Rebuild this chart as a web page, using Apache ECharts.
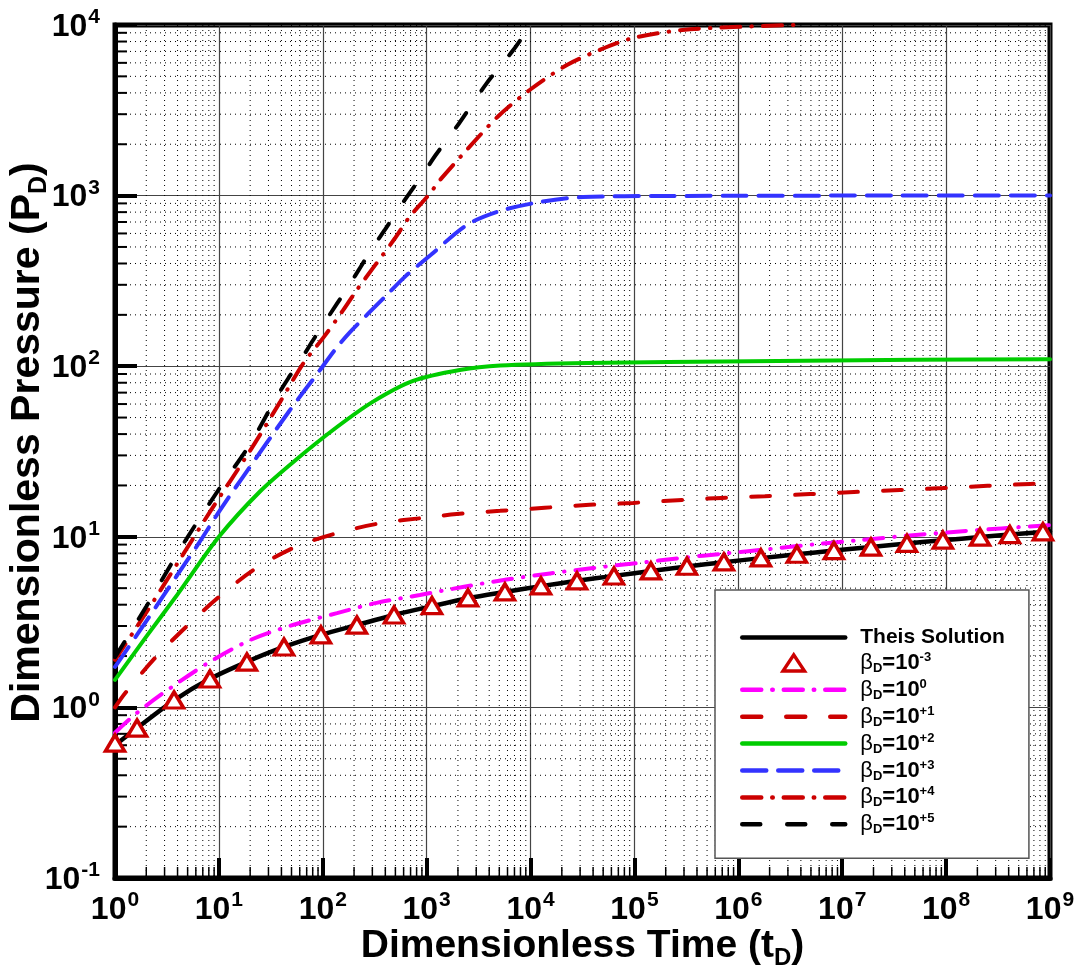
<!DOCTYPE html>
<html>
<head>
<meta charset="utf-8">
<script src="https://cdn.jsdelivr.net/npm/echarts@6/dist/echarts.min.js"></script>
<style>
  html, body { margin: 0; background: #fff; }
  #chart { width: 1081px; height: 967px; }
</style>
</head>
<body>
<div id="chart"></div>
<script>
// values (tD, PD)
const tTheis = [1, 1.63, 3.7, 8.2, 18.6, 42.3, 96, 213, 485, 1125, 2500, 5670, 12600, 28000, 63500, 1.44e5, 3.2e5, 7.26e5, 1.65e6, 3.66e6, 8.32e6, 1.89e7, 4.2e7, 9.31e7, 2.12e8, 4.11e8, 8.55e8, 1e9]
const pTheis = [0.60, 0.757, 1.10, 1.47, 1.85, 2.26, 2.66, 3.04, 3.48, 3.92, 4.36, 4.75, 5.14, 5.52, 5.90, 6.30, 6.70, 7.10, 7.50, 7.90, 8.30, 8.72, 9.14, 9.55, 9.96, 10.3, 10.68, 10.76]

const tBm3 = [1, 1.63, 3.7, 8.2, 18.6, 42.3, 96, 213, 485, 1125, 2500, 5670, 12600, 28000, 63500, 1.44e5, 3.2e5, 7.26e5, 1.65e6, 3.66e6, 8.32e6, 1.89e7, 4.2e7, 9.31e7, 2.12e8, 4.11e8, 8.55e8]
const pBm3 = [0.618, 0.757, 1.105, 1.467, 1.845, 2.26, 2.66, 3.04, 3.48, 3.95, 4.38, 4.75, 5.15, 5.51, 5.89, 6.31, 6.72, 7.12, 7.52, 7.9, 8.3, 8.71, 9.15, 9.55, 9.95, 10.3, 10.7]

const tB0 = [1, 1.63, 3.6, 8.2, 20, 48, 137, 330, 860, 2220, 5900, 15400, 4e4, 1.07e5, 2.74e5, 7.7e5, 2e6, 5.6e6, 1.47e7, 4.2e7, 1.1e8, 3.4e8, 1e9]
const pB0 = [0.71, 0.93, 1.33, 1.85, 2.48, 3.0, 3.57, 4.1, 4.56, 5.08, 5.62, 6.1, 6.56, 7.02, 7.5, 8.0, 8.48, 9.05, 9.55, 10.15, 10.65, 11.2, 11.7]

const tB1 = [1, 1.25, 2.43, 4.93, 10, 22.2, 54, 137, 355, 920, 1950, 5100, 13700, 37000, 9.7e4, 2.6e5, 6.9e5, 1.8e6, 4.9e6, 1.3e7, 3.6e7, 9.3e7, 2.5e8, 6.5e8, 1e9]
const pB1 = [1.0, 1.21, 1.95, 3.0, 4.44, 6.47, 8.7, 10.5, 12.0, 12.9, 13.6, 14.2, 14.8, 15.4, 15.8, 16.4, 16.9, 17.3, 17.8, 18.3, 18.8, 19.3, 19.9, 20.4, 20.6]

const tB2 = [1, 2, 4, 10, 25, 56, 137, 305, 740, 2080, 5100, 3.5e4, 1.3e6, 5e7, 1e9]
const pB2 = [1.45, 2.6, 4.6, 10, 18.5, 28.5, 44, 62, 82, 95, 101, 104.5, 107, 109, 110]

const tB3 = [1, 2, 4, 6.5, 10, 17, 48, 93, 130, 182, 415, 620, 1100, 2430, 5100, 12400, 32000, 2e5, 3.6e7, 1e9]
const pB3 = [1.73, 3.2, 6.0, 9.3, 14, 22.4, 55, 94, 124, 158, 262, 335, 450, 672, 813, 917, 981, 995, 1000, 1000]

const tB4 = [1, 2, 4, 8.2, 20, 39, 65, 103, 157, 212, 323, 495, 676, 1060, 1343, 2426, 4800, 9800, 22400, 46000, 97000, 2.9e5, 8.9e5, 3.4e6]
const pB4 = [1.9, 3.6, 7.0, 14, 32, 62, 104, 149, 213, 279, 395, 562, 743, 1018, 1233, 1850, 2890, 4160, 5830, 7130, 8390, 9350, 9720, 10000]

const tB5 = [1, 2, 4.5, 10, 20, 36, 46.6, 62.7, 80, 105, 138, 180, 232, 306, 400, 521, 690, 927, 1202, 1945, 3776, 6820, 10000]
const pB5 = [1.97, 3.9, 9.0, 19, 35, 66, 85, 111, 141, 182, 234, 299, 383, 501, 636, 813, 1040, 1340, 1706, 2535, 4550, 7130, 10000]

const xMin = 1, xMax = 1e9, yMin = 0.1, yMax = 1e4

// minor grid positions 2..9 x 10^k
const minorX = []
for (let k = 0; k < 9; k++) for (let m = 2; m <= 9; m++) minorX.push(m * Math.pow(10, k))
const minorY = []
for (let k = -1; k < 4; k++) for (let m = 2; m <= 9; m++) minorY.push(m * Math.pow(10, k))

const zip = (a, b) => a.map((v, i) => [v, b[i]])
const FONT = 'Liberation Sans'
const TRI = 'path://M10,0L20,15L0,15Z'

function powLabel (v) {
  const e = Math.round(Math.log10(v))
  return '{b|10}{s|' + e + '}'
}

const powRich = {
  b: { fontFamily: FONT, fontSize: 32, fontWeight: 'bold', color: '#000', lineHeight: 36, verticalAlign: 'bottom' },
  s: { fontFamily: FONT, fontSize: 21, fontWeight: 'bold', color: '#000', lineHeight: 36, verticalAlign: 'top', padding: [0, 0, 0, 1] }
}

const legendText = {
  'Theis Solution': '{t|Theis Solution}',
  'b-3': '{g|β}{d|D}{b|=10}{u|-3}',
  'b0': '{g|β}{d|D}{b|=10}{u|0}',
  'b1': '{g|β}{d|D}{b|=10}{u|+1}',
  'b2': '{g|β}{d|D}{b|=10}{u|+2}',
  'b3': '{g|β}{d|D}{b|=10}{u|+3}',
  'b4': '{g|β}{d|D}{b|=10}{u|+4}',
  'b5': '{g|β}{d|D}{b|=10}{u|+5}'
}

function minorXItem (params, api) {
  const t = api.value(0)
  const top = api.coord([t, yMax])
  const bot = api.coord([t, yMin])
  return {
    type: 'group',
    children: [
      { type: 'line', shape: { x1: top[0], y1: top[1], x2: bot[0], y2: bot[1] }, style: { stroke: '#000', lineWidth: 1, lineDash: [1, 4] } },
      { type: 'line', shape: { x1: bot[0], y1: bot[1], x2: bot[0], y2: bot[1] - 11 }, style: { stroke: '#000', lineWidth: 1.5 } }
    ]
  }
}

function minorYItem (params, api) {
  const p = api.value(1)
  const l = api.coord([xMin, p])
  const r = api.coord([xMax, p])
  return {
    type: 'group',
    children: [
      { type: 'line', shape: { x1: l[0], y1: l[1], x2: r[0], y2: r[1] }, style: { stroke: '#000', lineWidth: 1, lineDash: [1, 4] } },
      { type: 'line', shape: { x1: l[0], y1: l[1], x2: l[0] + 12, y2: l[1] }, style: { stroke: '#000', lineWidth: 2 } }
    ]
  }
}

function curve (name, t, p, color, width, dash) {
  return {
    name: name,
    type: 'line',
    data: zip(t, p),
    symbol: 'none',
    showSymbol: false,
    smooth: 0.3,
    z: 3,
    lineStyle: { color: color, width: width, type: dash, cap: 'round' },
    itemStyle: { color: color }
  }
}

const nameRich = (fs) => ({
  n: { fontFamily: FONT, fontSize: fs, fontWeight: 'bold', color: '#000', lineHeight: fs + 8 },
  d: { fontFamily: FONT, fontSize: Math.round(fs * 0.62), fontWeight: 'bold', color: '#000', lineHeight: fs + 8, verticalAlign: 'bottom' }
})

// legend entries for lines: hide the marker dot drawn in the middle of the sample
const lineEntry = (name) => ({ name: name, itemStyle: { opacity: 0 } })

const chart = echarts.init(document.getElementById('chart'), null, { renderer: 'canvas' })
chart.setOption({
  animation: false,
  backgroundColor: '#fff',
  grid: {
    left: 115, right: 31, top: 25, bottom: 89,
    containLabel: false, outerBoundsMode: 'none',
    show: true, borderColor: '#000', borderWidth: 5, backgroundColor: 'transparent'
  },
  xAxis: {
    type: 'log',
    logBase: 10,
    min: xMin,
    max: xMax,
    name: '{n|Dimensionless Time (t}{d|D}{n|)}',
    nameLocation: 'middle',
    nameGap: 45,
    nameMoveOverlap: false,
    nameTextStyle: { rich: nameRich(39) },
    axisLine: { onZero: false, lineStyle: { color: '#000', width: 5 } },
    axisTick: { inside: true, length: 20, lineStyle: { color: '#000', width: 4 } },
    axisLabel: { margin: 12, formatter: powLabel, rich: powRich },
    splitLine: { show: true, lineStyle: { color: '#444', width: 1.2 } }
  },
  yAxis: {
    type: 'log',
    logBase: 10,
    min: yMin,
    max: yMax,
    name: '{n|Dimensionless Pressure (P}{d|D}{n|)}',
    nameLocation: 'middle',
    nameGap: 63,
    nameMoveOverlap: false,
    nameTextStyle: { rich: nameRich(41), padding: [0, 0, 0, 18] },
    axisLine: { onZero: false, lineStyle: { color: '#000', width: 5 } },
    axisTick: { inside: true, length: 22, lineStyle: { color: '#000', width: 4 } },
    axisLabel: { margin: 15, formatter: powLabel, rich: powRich },
    splitLine: { show: true, lineStyle: { color: '#444', width: 1.2 } }
  },
  legend: {
    orient: 'vertical',
    left: 715,
    top: 590,
    padding: [37, 24, 22, 25],
    itemWidth: 103,
    itemHeight: 16,
    itemGap: 2.9,
    backgroundColor: '#fff',
    borderColor: '#555',
    borderWidth: 1.5,
    borderRadius: 0,
    lineStyle: { width: 4.5 },
    data: [
      lineEntry('Theis Solution'),
      { name: 'b-3', icon: TRI, itemStyle: { borderWidth: 3.5 } },
      lineEntry('b0'),
      lineEntry('b1'),
      lineEntry('b2'),
      lineEntry('b3'),
      lineEntry('b4'),
      lineEntry('b5')
    ],
    formatter: (name) => legendText[name],
    textStyle: {
      rich: {
        t: { fontFamily: FONT, fontSize: 21, fontWeight: 'bold', color: '#000', lineHeight: 24, padding: [0, 0, 0, 10] },
        g: { fontFamily: FONT, fontSize: 22, color: '#000', lineHeight: 24, padding: [0, 0, 0, 10] },
        d: { fontFamily: FONT, fontSize: 13, fontWeight: 'bold', color: '#000', lineHeight: 24, verticalAlign: 'bottom' },
        b: { fontFamily: FONT, fontSize: 22, fontWeight: 'bold', color: '#000', lineHeight: 24 },
        u: { fontFamily: FONT, fontSize: 13, fontWeight: 'bold', color: '#000', lineHeight: 24, verticalAlign: 'top' }
      }
    }
  },
  series: [
    { type: 'custom', name: 'minorX', data: minorX.map(v => [v, yMin]), renderItem: minorXItem, clip: false, silent: true, z: 1 },
    { type: 'custom', name: 'minorY', data: minorY.map(v => [xMin, v]), renderItem: minorYItem, clip: false, silent: true, z: 1 },
    curve('Theis Solution', tTheis, pTheis, '#000', 4.5, 'solid'),
    curve('b0', tB0, pB0, '#ff00ff', 4, [19, 11, 0.5, 11]),
    curve('b1', tB1, pB1, '#cc0000', 4, [19, 25]),
    curve('b2', tB2, pB2, '#00cc00', 4, 'solid'),
    curve('b3', tB3, pB3, '#3333ff', 4, [24, 12]),
    curve('b4', tB4, pB4, '#cc0000', 4, [19, 11, 0.5, 11]),
    curve('b5', tB5, pB5, '#000', 4, [18, 27]),
    {
      name: 'b-3',
      type: 'scatter',
      data: zip(tBm3, pBm3),
      symbol: TRI,
      symbolSize: [19, 16],
      symbolKeepAspect: false,
      z: 4,
      itemStyle: { color: '#fff', borderColor: '#cc0000', borderWidth: 3.5, opacity: 1 }
    }
  ]
})
</script>
</body>
</html>
